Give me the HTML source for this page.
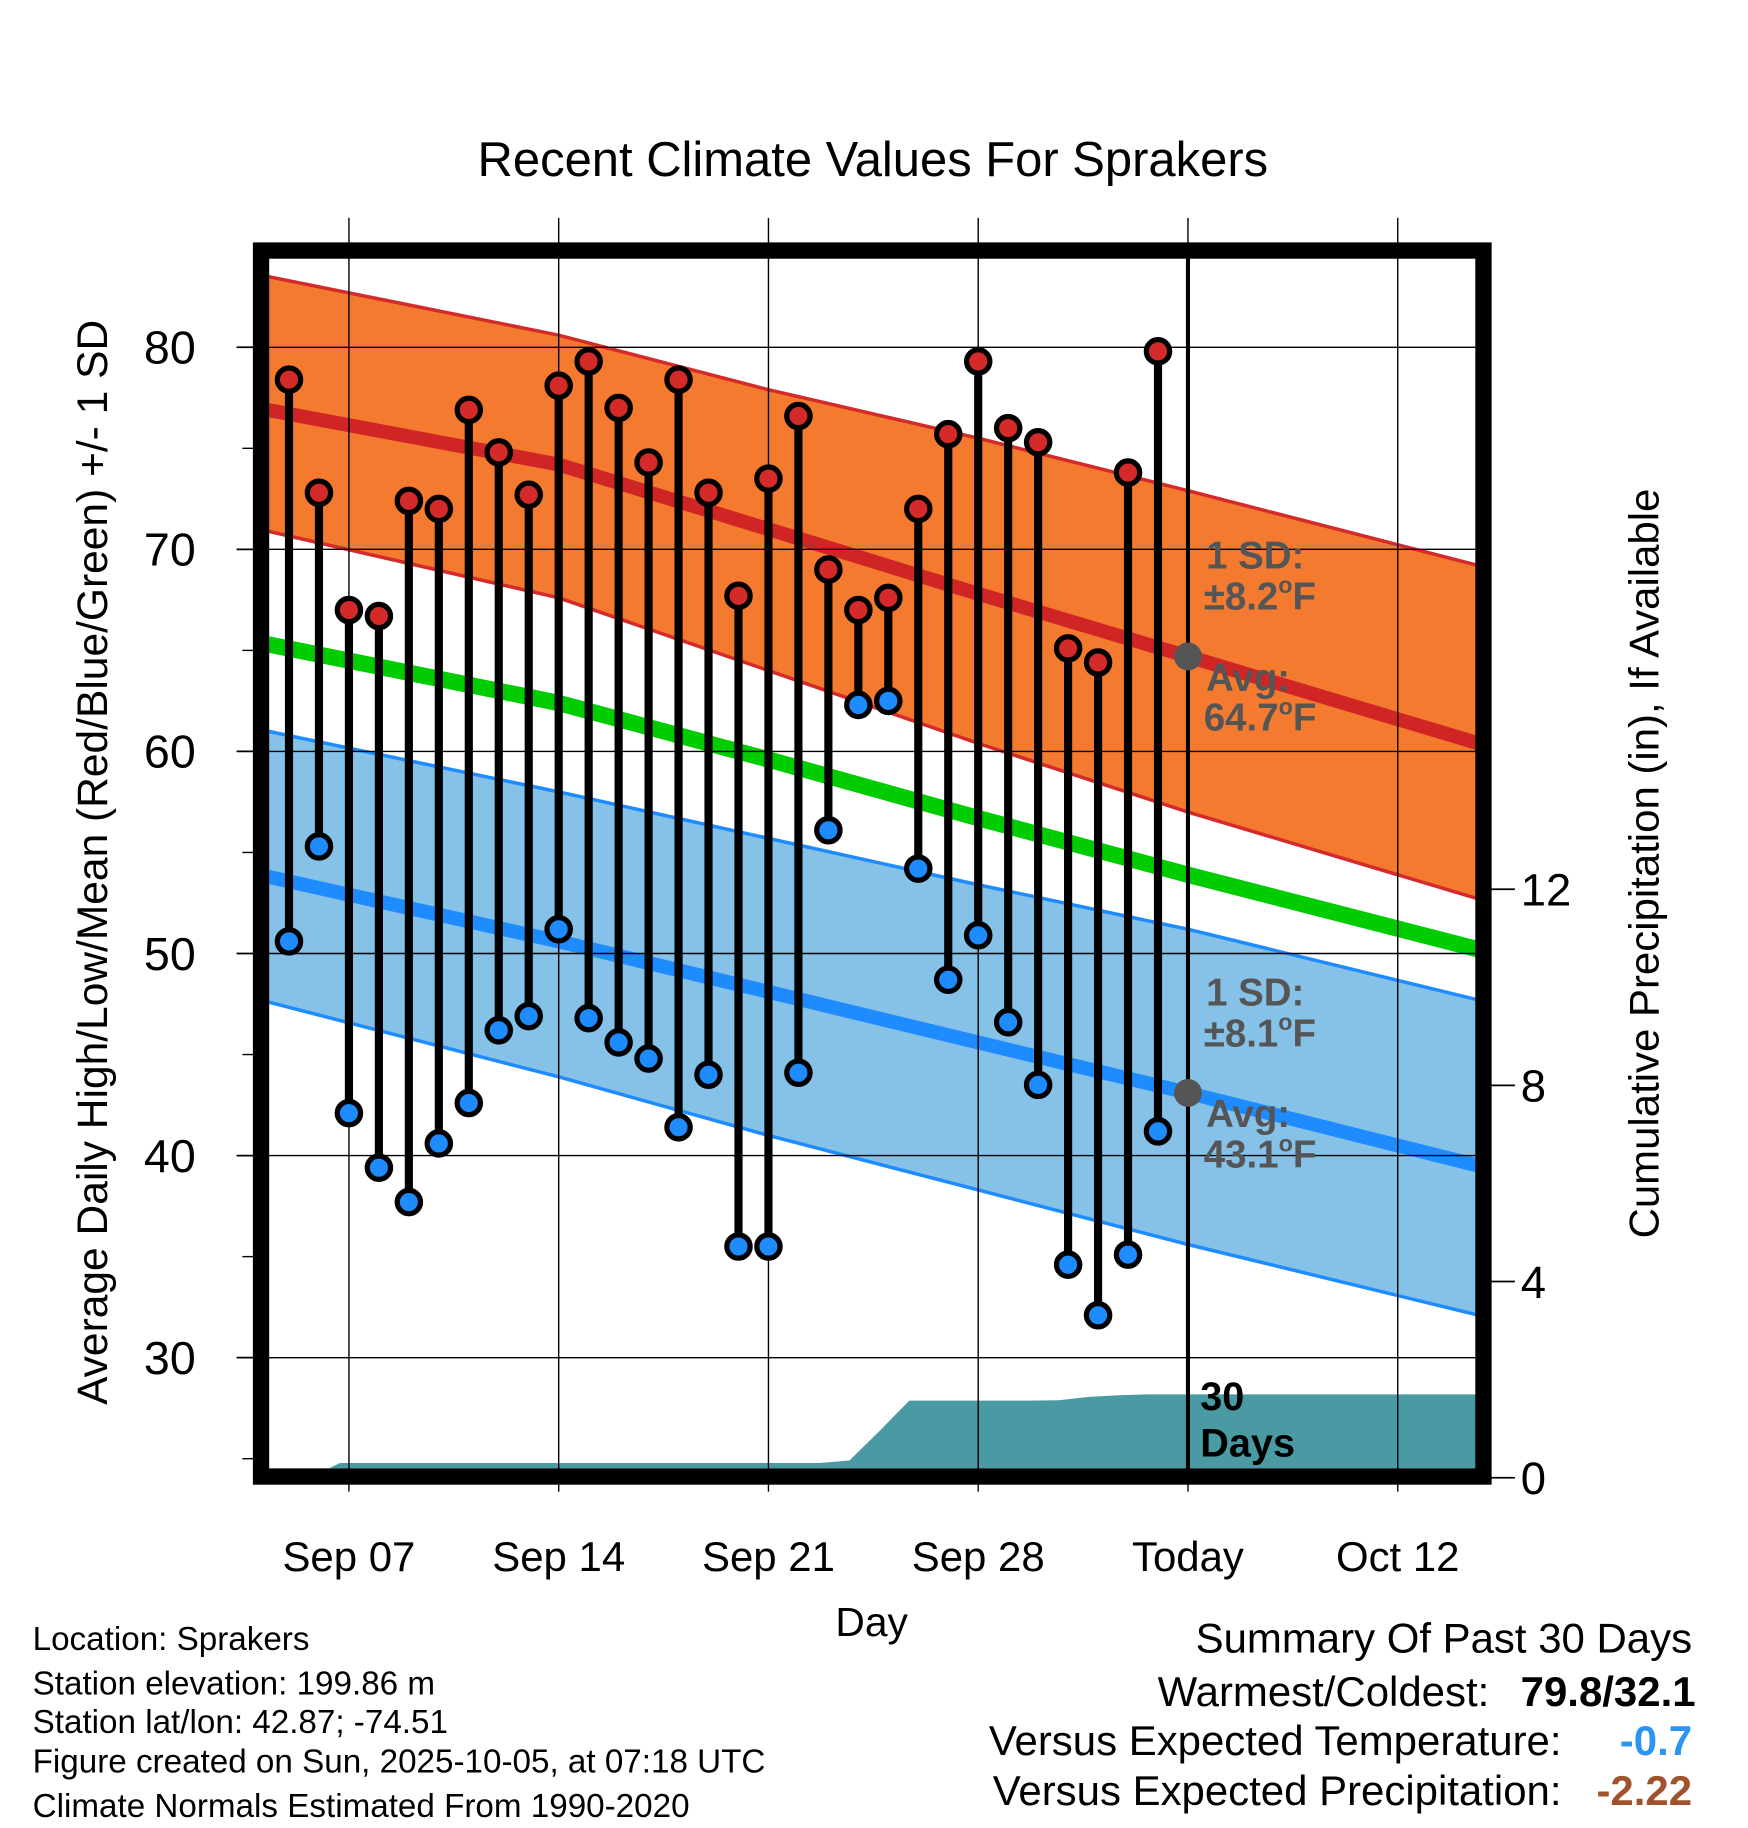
<!DOCTYPE html>
<html><head><meta charset="utf-8"><style>
html,body{margin:0;padding:0;background:#fff;}
svg{display:block;font-family:"Liberation Sans",Arial,sans-serif;}
</style></head><body>
<svg id="chart" width="1748" height="1828" viewBox="0 0 1500 1568.6" preserveAspectRatio="none" xmlns="http://www.w3.org/2000/svg">
<defs><clipPath id="pc"><rect x="230" y="222" width="1038" height="1038"/></clipPath></defs>
<g id="bands" clip-path="url(#pc)"></g>
<g id="grid"></g>
<g id="marks"></g>
<rect x="224" y="215" width="1049" height="1052" fill="none" stroke="#000" stroke-width="14"/>
<text x="749" y="151" text-anchor="middle" font-size="42">Recent Climate Values For Sprakers</text>
<text x="748" y="1404" text-anchor="middle" font-size="35">Day</text>
<text transform="translate(92,740) rotate(-90)" text-anchor="middle" font-size="36.5">Average Daily High/Low/Mean (Red/Blue/Green) +/- 1 SD</text>
<text transform="translate(1423,741) rotate(-90)" text-anchor="middle" font-size="36">Cumulative Precipitation (in), If Available</text>
<g font-size="33" font-weight="bold" fill="#555">
<text x="1035" y="488">1 SD:</text><text x="1033" y="523">±8.2<tspan font-size="20" dy="-14">o</tspan><tspan dy="14">F</tspan></text>
<text x="1035" y="593">Avg:</text><text x="1033" y="627">64.7<tspan font-size="20" dy="-14">o</tspan><tspan dy="14">F</tspan></text>
<text x="1035" y="863">1 SD:</text><text x="1033" y="898">±8.1<tspan font-size="20" dy="-14">o</tspan><tspan dy="14">F</tspan></text>
<text x="1035" y="967">Avg:</text><text x="1033" y="1002">43.1<tspan font-size="20" dy="-14">o</tspan><tspan dy="14">F</tspan></text>
</g>
<g font-size="34" font-weight="bold"><text x="1030" y="1210">30</text><text x="1030" y="1250">Days</text></g>
<g font-size="28.5">
<text x="28" y="1416">Location: Sprakers</text>
<text x="28" y="1454">Station elevation: 199.86 m</text>
<text x="28" y="1487">Station lat/lon: 42.87; -74.51</text>
<text x="28" y="1521">Figure created on Sun, 2025-10-05, at 07:18 UTC</text>
<text x="28" y="1559">Climate Normals Estimated From 1990-2020</text>
</g>
<g font-size="36" text-anchor="end">
<text x="1452" y="1418">Summary Of Past 30 Days</text>
<text x="1278" y="1464">Warmest/Coldest:</text><text x="1455" y="1464" font-weight="bold">79.8/32.1</text>
<text x="1340" y="1506">Versus Expected Temperature:</text><text x="1452" y="1506" font-weight="bold" fill="#2b95f0">-0.7</text>
<text x="1340" y="1549">Versus Expected Precipitation:</text><text x="1452" y="1549" font-weight="bold" fill="#a0522d">-2.22</text>
</g>
</svg>
<script>
// day index t: 0 = Sep 5
const highs=[78.4,72.8,67.0,66.7,72.4,72.0,76.9,74.8,72.7,78.1,79.3,77.0,74.3,78.4,72.8,67.7,73.5,76.6,69.0,67.0,67.6,72.0,75.7,79.3,76.0,75.3,65.1,64.4,73.8,79.8];
const lows=[50.6,55.3,42.1,39.4,37.7,40.6,42.6,46.2,46.9,51.2,46.8,45.6,44.8,41.4,44.0,35.5,35.5,44.1,56.1,62.3,62.5,54.2,48.7,50.9,46.6,43.5,34.6,32.1,35.1,41.2];
const precip=[0,0.3,0.3,0.3,0.3,0.3,0.3,0.3,0.3,0.3,0.3,0.3,0.3,0.3,0.3,0.3,0.3,0.3,0.35,0.95,1.57,1.57,1.57,1.57,1.57,1.58,1.65,1.68,1.7,1.7];
const normDays=[-0.7,9,16,23,30,39.7];
const highMean=[76.9,74.2,71.0,67.8,64.7,60.4];
const highUp=[83.5,80.6,77.9,75.5,72.9,69.2];
const highLo=[70.9,67.6,64.0,60.4,57.0,52.7];
const lowMean=[53.8,50.6,48.1,45.6,43.1,39.5];
const lowUp=[61.0,58.0,55.7,53.4,51.2,47.7];
const lowLo=[47.6,43.9,41.0,38.3,35.6,32.1];
const avgMean=[65.3,62.4,59.6,56.7,53.9,50.2];
const xTicks=["Sep 07","Sep 14","Sep 21","Sep 28","Today","Oct 12"];
const xTickDays=[2,9,16,23,30,37];
const yTicks=[30,40,50,60,70,80];
const pTicks=[0,4,8,12];
const todayDay=30;

const X=t=>248+25.714*t;
const Y=v=>298+(80-v)*17.34;
const P=v=>1268-v*42.08;
const NS="http://www.w3.org/2000/svg";
function mk(tag,attrs,parent){const e=document.createElementNS(NS,tag);for(const k in attrs)e.setAttribute(k,attrs[k]);parent.appendChild(e);return e;}
const bands=document.getElementById('bands'),grid=document.getElementById('grid'),marks=document.getElementById('marks');
const line=arr=>normDays.map((d,i)=>X(d).toFixed(1)+','+Y(arr[i]).toFixed(1)).join(' ');
const band=(u,l)=>line(u)+' '+normDays.map((d,i)=>X(d).toFixed(1)+','+Y(l[i]).toFixed(1)).reverse().join(' ');

let e;
e=mk('polygon',{points:band(highUp,highLo),fill:'#f47a30'},bands);


e=mk('polyline',{points:line(highUp),fill:'none',stroke:'#d42a2a','stroke-width':3},bands);


e=mk('polyline',{points:line(highLo),fill:'none',stroke:'#d42a2a','stroke-width':3},bands);


e=mk('polygon',{points:band(lowUp,lowLo),fill:'#86c1e8'},bands);


e=mk('polyline',{points:line(lowUp),fill:'none',stroke:'#1e8cff','stroke-width':3},bands);


e=mk('polyline',{points:line(lowLo),fill:'none',stroke:'#1e8cff','stroke-width':3},bands);


e=mk('polyline',{points:line(highMean),fill:'none',stroke:'#d02525','stroke-width':12},bands);


e=mk('polyline',{points:line(avgMean),fill:'none',stroke:'#00cc00','stroke-width':14},bands);


e=mk('polyline',{points:line(lowMean),fill:'none',stroke:'#1e8cff','stroke-width':12},bands);


// precip area
let pts=[X(-0.7)+','+P(0)];
precip.forEach((v,i)=>{pts.push(X(i+0.7).toFixed(1)+','+P(v).toFixed(1));});
pts.push('1268,'+P(precip[precip.length-1]).toFixed(1),'1268,'+P(0));
e=mk('polygon',{points:pts.join(' '),fill:'#4a9aa3'},bands);



// grid
yTicks.forEach(v=>{
 e=mk('line',{x1:218,x2:1268,y1:Y(v),y2:Y(v),stroke:'#000','stroke-width':1.2},grid);
 
 
 e=mk('line',{x1:203,x2:218,y1:Y(v),y2:Y(v),stroke:'#000','stroke-width':1.5},grid);
 
 
 e=mk('text',{x:168,y:Y(v)+14,'text-anchor':'end','font-size':40},grid);
 e.textContent=v;
 
 
});
[25,35,45,55,65,75].forEach(v=>{
 e=mk('line',{x1:208,x2:218,y1:Y(v),y2:Y(v),stroke:'#000','stroke-width':1.2},grid);
 
 
});
pTicks.forEach(v=>{
 e=mk('line',{x1:1277,x2:1300,y1:P(v),y2:P(v),stroke:'#000','stroke-width':1.5},grid);
 
 
 e=mk('text',{x:1305,y:P(v)+14,'font-size':39},grid);
 e.textContent=v;
 
 
});
xTickDays.forEach((d,i)=>{
 e=mk('line',{x1:X(d),x2:X(d),y1:187,y2:1280,stroke:'#000','stroke-width':1.2},grid);
 
 
 e=mk('text',{x:X(d),y:1348,'text-anchor':'middle','font-size':36},grid);
 e.textContent=xTicks[i];
 
 
});
e=mk('line',{x1:X(todayDay),x2:X(todayDay),y1:222,y2:1262,stroke:'#000','stroke-width':3.5},grid);



// daily marks
highs.forEach((h,i)=>{
 const x=X(i);
 e=mk('line',{x1:x,x2:x,y1:Y(h),y2:Y(lows[i]),stroke:'#000','stroke-width':7},marks);
 
 
});
highs.forEach((h,i)=>{
 const x=X(i);
 e=mk('circle',{cx:x,cy:Y(h),r:10,fill:'#d42a2a',stroke:'#000','stroke-width':4.5},marks);
 
 
 e=mk('circle',{cx:x,cy:Y(lows[i]),r:10,fill:'#1e8cff',stroke:'#000','stroke-width':4.5},marks);
 
 
});
e=mk('circle',{cx:X(todayDay),cy:Y(highMean[4]),r:12,fill:'#555'},marks);


e=mk('circle',{cx:X(todayDay),cy:Y(lowMean[4]),r:12,fill:'#555'},marks);


</script>
</body></html>
